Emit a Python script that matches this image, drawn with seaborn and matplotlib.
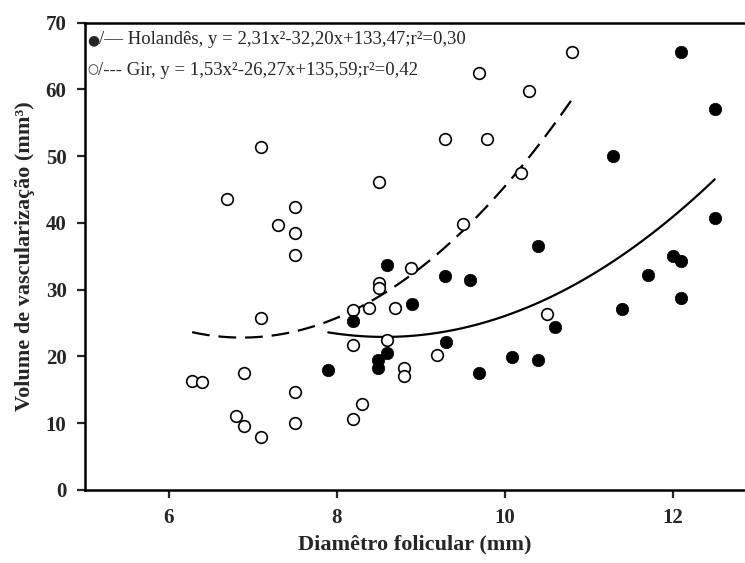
import numpy as np
import pandas as pd
import matplotlib
matplotlib.use("Agg")
import matplotlib.pyplot as plt
import seaborn as sns

# Holandes (filled circles)
hol_x = [7.90, 8.19, 8.49, 8.49, 8.60, 8.60, 8.90, 9.29, 9.30, 9.59, 9.69, 10.09,
         10.40, 10.40, 10.60, 11.29, 11.40, 11.70, 12.00, 12.10, 12.10, 12.10, 12.50, 12.50]
hol_y = [17.9, 25.3, 18.2, 19.4, 20.5, 33.7, 27.9, 32.1, 22.2, 31.4, 17.5, 19.9,
         36.5, 19.5, 24.4, 50.0, 27.1, 32.2, 35.0, 34.3, 28.8, 65.6, 57.1, 40.7]

# Gir (open circles)
gir_x = [6.28, 6.40, 6.70, 6.80, 6.90, 6.90, 7.10, 7.10, 7.10, 7.30, 7.50, 7.50, 7.50,
         7.50, 7.50, 8.19, 8.19, 8.19, 8.30, 8.39, 8.50, 8.50, 8.50, 8.60, 8.70, 8.80,
         8.80, 8.89, 9.19, 9.29, 9.50, 9.69, 9.79, 10.19, 10.29, 10.50, 10.80]
gir_y = [16.3, 16.1, 43.6, 11.1, 9.6, 17.5, 51.3, 25.8, 8.0, 39.7, 42.4, 38.5, 35.2,
         14.6, 10.0, 10.7, 21.7, 26.9, 12.9, 27.3, 46.1, 31.0, 30.2, 22.5, 27.2, 18.3,
         17.1, 33.2, 20.2, 52.5, 39.8, 62.4, 52.6, 47.4, 59.7, 26.3, 65.6]

x_ticks = [6, 8, 10, 12]
y_ticks = [0, 10, 20, 30, 40, 50, 60, 70]

hol_label = "/— Holandês, y = 2,31x²-32,20x+133,47;r²=0,30"
gir_label = "/--- Gir, y = 1,53x²-26,27x+135,59;r²=0,42"

hol = pd.DataFrame({"x": hol_x, "y": hol_y})
gir = pd.DataFrame({"x": gir_x, "y": gir_y})

sns.set_style("ticks")
plt.rcParams["font.family"] = ["Liberation Serif", "DejaVu Serif"]

fig = plt.figure(figsize=(7.45, 5.63), dpi=100)
ax = fig.add_axes([0.1135, 0.1297, 0.8865, 0.8303])

# fitted quadratic curves
sns.regplot(data=hol, x="x", y="y", order=2, ci=None, scatter=False, truncate=True,
            ax=ax, line_kws={"color": "black", "lw": 1.6})
sns.regplot(data=gir, x="x", y="y", order=2, ci=None, scatter=False, truncate=True,
            ax=ax, line_kws={"color": "black", "lw": 1.6, "ls": (0, (8, 4))})

# points
sns.scatterplot(data=gir, x="x", y="y", ax=ax, marker="o", s=70,
                facecolor="white", edgecolor="black", linewidth=1.2, zorder=3)
sns.scatterplot(data=hol, x="x", y="y", ax=ax, marker="o", s=80,
                color="black", edgecolor="black", linewidth=0.5, zorder=4)

ax.set_xlim(5, 12.86)
ax.set_ylim(0, 70)
ax.set_xticks(x_ticks)
ax.set_yticks(y_ticks)
ax.set_xticklabels([str(t) for t in x_ticks], fontsize=15, fontweight="bold")
ax.set_yticklabels([str(t) for t in y_ticks], fontsize=15, fontweight="bold")
ax.tick_params(direction="out", length=6, width=1.6, pad=7)

for side in ["left", "bottom", "top"]:
    ax.spines[side].set_linewidth(1.8)
    ax.spines[side].set_color("black")
ax.spines["right"].set_visible(False)

ax.set_xlabel("Diamêtro folicular (mm)", fontsize=16, fontweight="bold", labelpad=5)
ax.set_ylabel("Volume de vascularização (mm³)", fontsize=16, fontweight="bold", labelpad=8)

# equation labels with marker symbols
s1 = ax.text(0.004, 0.963, "●", transform=ax.transAxes, fontsize=10,
             family="DejaVu Sans", va="center", ha="left")
ax.annotate(hol_label, xy=(1, 0.5), xycoords=s1, fontsize=13.5,
            va="center", ha="left")
s2 = ax.text(0.004, 0.898, "○", transform=ax.transAxes, fontsize=9,
             family="DejaVu Sans", va="center", ha="left")
ax.annotate(gir_label, xy=(1, 0.5), xycoords=s2, fontsize=13.5,
            va="center", ha="left")

fig.savefig("out.png", dpi=100)
